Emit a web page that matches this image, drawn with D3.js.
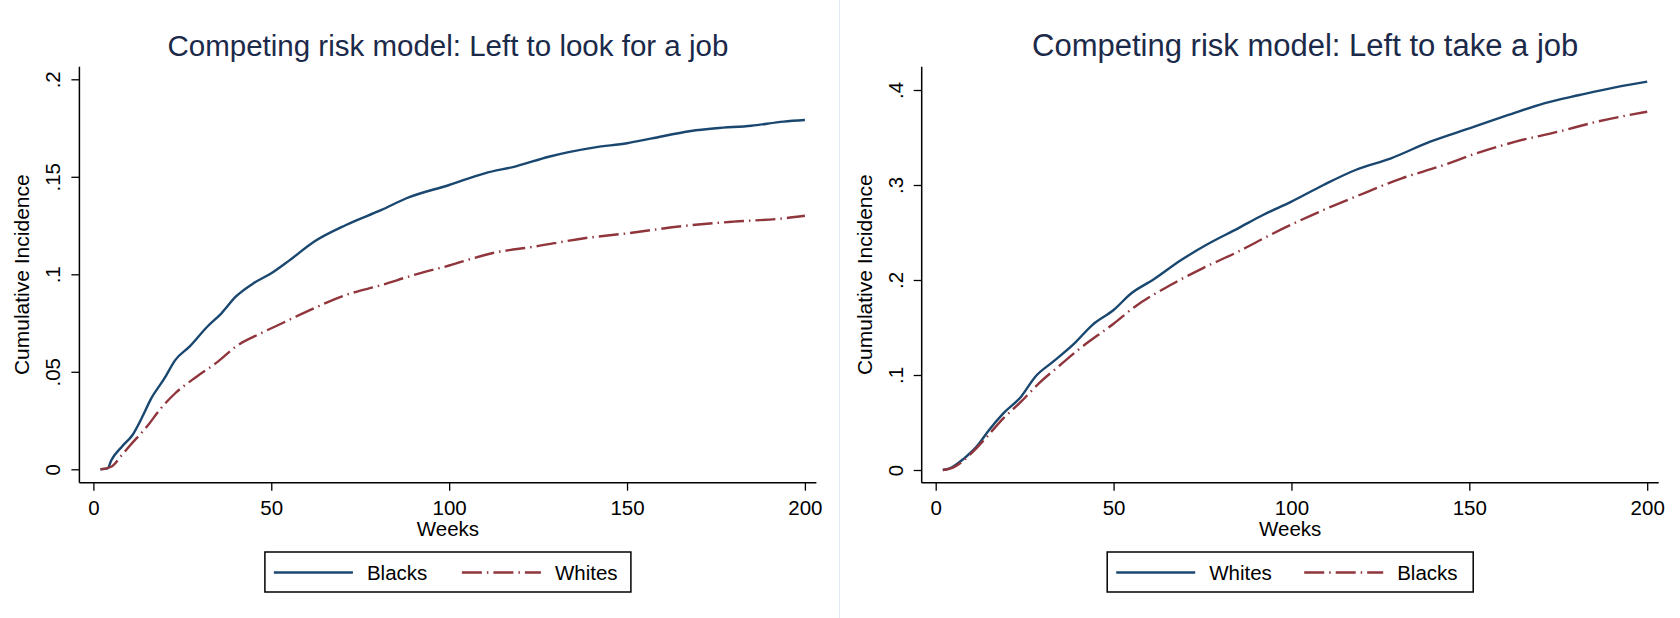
<!DOCTYPE html>
<html>
<head>
<meta charset="utf-8">
<script src="https://cdn.jsdelivr.net/npm/d3@7"></script>
<style>
  body { margin: 0; background: #fff; }
  svg { display: block; font-family: "Liberation Sans", Arial, sans-serif; }
</style>
</head>
<body>
<div id="chart-area"></div>
<script>
// left panel: left to look for a job
var lookBlacksWeeks = [2, 4, 5, 8, 11, 14, 16, 20, 23, 27, 32, 36, 40, 45, 50, 55, 62, 71, 81, 88, 100, 110, 119, 128, 141, 150, 157, 168, 175, 185, 194, 200];
var lookBlacks = [0, 0.0005, 0.0045, 0.0116, 0.0176, 0.0278, 0.0355, 0.0467, 0.056, 0.0629, 0.0731, 0.08, 0.0885, 0.0954, 0.1005, 0.107, 0.1167, 0.1253, 0.133, 0.139, 0.1458, 0.1518, 0.1555, 0.1603, 0.1651, 0.1672, 0.1697, 0.1735, 0.1749, 0.1762, 0.1783, 0.1791];
var lookWhitesWeeks = [2, 5, 8, 10, 15, 19, 23, 29, 35, 40, 47, 52, 62, 71, 81, 90, 100, 112, 124, 138, 150, 166, 180, 194, 200];
var lookWhites = [0, 0.0013, 0.0073, 0.0116, 0.0218, 0.0313, 0.039, 0.0475, 0.0552, 0.0629, 0.0697, 0.074, 0.0826, 0.0894, 0.0945, 0.0996, 0.1045, 0.1108, 0.1142, 0.1185, 0.121, 0.1248, 0.127, 0.1287, 0.13];

// right panel: left to take a job
var takeWhitesWeeks = [2, 4, 8, 11.5, 15, 19, 24, 28, 33, 39, 44, 50, 55, 61, 69, 76, 85, 92, 100, 109, 118, 128, 139, 150, 161, 171, 181, 191, 200];
var takeWhites = [0, 0.0018, 0.0123, 0.0246, 0.0421, 0.0596, 0.0772, 0.0982, 0.114, 0.1333, 0.1526, 0.1684, 0.186, 0.2, 0.221, 0.2368, 0.2544, 0.2684, 0.2825, 0.3, 0.3158, 0.3281, 0.3456, 0.3596, 0.3737, 0.386, 0.3947, 0.4028, 0.4088];
var takeBlacksWeeks = [2, 5, 10, 14, 19, 24, 29, 35, 40, 50, 56, 66, 75, 85, 94, 100, 109, 118, 131, 142, 152, 163, 175, 186, 200];
var takeBlacks = [0, 0.0028, 0.0175, 0.0333, 0.0544, 0.0719, 0.0912, 0.1105, 0.1263, 0.154, 0.1719, 0.1947, 0.2123, 0.2298, 0.2474, 0.2584, 0.2737, 0.2877, 0.307, 0.32, 0.3333, 0.3456, 0.3561, 0.3667, 0.3772];

var xTicks = [0, 50, 100, 150, 200];
var lookYTicks = [0, 0.05, 0.1, 0.15, 0.2];
var takeYTicks = [0, 0.1, 0.2, 0.3, 0.4];

var navy = "#1a476f";
var maroon = "#90353b";
var dashDot = "20,5,1.5,5";

var svg = d3.select("#chart-area")
  .append("svg")
  .attr("width", 1680)
  .attr("height", 618);

// faint border between the two graphs
svg.append("line")
  .attr("x1", 839.5).attr("x2", 839.5)
  .attr("y1", 0).attr("y2", 618)
  .attr("stroke", "#e3e9f0")
  .attr("stroke-width", 1);

function fmt(d) {
  return d === 0 ? "0" : String(d).replace(/^0/, "");
}

function drawPanel(p) {
  var g = svg.append("g").attr("transform", "translate(" + p.left + ",0)");

  var x = d3.scaleLinear().domain([0, 200]).range([14, 725.5]);
  var y = d3.scaleLinear().domain([0, p.yMax]).range(p.yRange);

  var plotL = 0, plotR = 737, plotT = 66.7, plotB = 482.7;
  var cx = (plotL + plotR) / 2;

  g.append("text")
    .attr("x", cx + p.titleShift)
    .attr("y", 56)
    .attr("text-anchor", "middle")
    .attr("font-size", p.titleSize)
    .attr("fill", "#1c2a4a")
    .text(p.title);

  // x axis
  var xAxis = g.append("g")
    .attr("transform", "translate(0," + plotB + ")")
    .call(d3.axisBottom(x).tickValues(xTicks).tickSize(8).tickPadding(10).tickFormat(d3.format("d")));
  xAxis.select(".domain").remove();
  xAxis.selectAll("line").attr("stroke", "#000").attr("stroke-width", 1.3);
  xAxis.selectAll("text").attr("font-size", "20.5px").attr("fill", "#000").attr("font-family", null);

  // y axis
  var yAxis = g.append("g")
    .call(d3.axisLeft(y).tickValues(p.yTicks).tickSize(8).tickFormat(fmt));
  yAxis.select(".domain").remove();
  yAxis.selectAll("line").attr("stroke", "#000").attr("stroke-width", 1.3);
  yAxis.selectAll("text")
    .attr("font-size", "20.5px")
    .attr("fill", "#000")
    .attr("font-family", null)
    .attr("x", null).attr("dy", null)
    .attr("text-anchor", "middle")
    .attr("transform", "translate(-19,0) rotate(-90)");

  // spines
  g.append("line")
    .attr("x1", plotL).attr("x2", plotL)
    .attr("y1", plotT).attr("y2", plotB)
    .attr("stroke", "#000").attr("stroke-width", 1.5);
  g.append("line")
    .attr("x1", plotL).attr("x2", plotR)
    .attr("y1", plotB).attr("y2", plotB)
    .attr("stroke", "#000").attr("stroke-width", 1.5);

  g.append("text")
    .attr("x", cx)
    .attr("y", 536)
    .attr("text-anchor", "middle")
    .attr("font-size", "20.5px")
    .text("Weeks");

  g.append("text")
    .attr("transform", "translate(-50," + (plotT + plotB) / 2 + ") rotate(-90)")
    .attr("text-anchor", "middle")
    .attr("font-size", "21px")
    .text("Cumulative Incidence");

  var line = d3.line()
    .x(d => x(d[0]))
    .y(d => y(d[1]))
    .curve(d3.curveMonotoneX);

  p.series.forEach(s => {
    g.append("path")
      .datum(d3.zip(s.weeks, s.values))
      .attr("fill", "none")
      .attr("stroke", s.color)
      .attr("stroke-width", 2.4)
      .attr("stroke-dasharray", s.dash)
      .attr("d", line);
  });

  // legend
  var lg = g.append("g").attr("transform", "translate(" + (cx - 183) + ",552)");
  lg.append("rect")
    .attr("width", 366).attr("height", 40)
    .attr("fill", "#fff")
    .attr("stroke", "#000").attr("stroke-width", 1.5);
  p.series.forEach((s, i) => {
    var ox = 9 + i * 188;
    lg.append("line")
      .attr("x1", ox).attr("x2", ox + 79)
      .attr("y1", 20.5).attr("y2", 20.5)
      .attr("stroke", s.color)
      .attr("stroke-width", 2.4)
      .attr("stroke-dasharray", s.dash);
    lg.append("text")
      .attr("x", ox + 93)
      .attr("y", 28)
      .attr("font-size", "20.5px")
      .text(s.name);
  });
}

drawPanel({
  left: 79.4,
  title: "Competing risk model: Left to look for a job",
  titleSize: "29.5px",
  titleShift: 0,
  yMax: 0.2,
  yRange: [469.3, 79.3],
  yTicks: lookYTicks,
  series: [
    { name: "Blacks", weeks: lookBlacksWeeks, values: lookBlacks, color: navy, dash: null },
    { name: "Whites", weeks: lookWhitesWeeks, values: lookWhites, color: maroon, dash: dashDot }
  ]
});

drawPanel({
  left: 921.7,
  title: "Competing risk model: Left to take a job",
  titleSize: "31px",
  titleShift: 15,
  yMax: 0.4,
  yRange: [470, 90],
  yTicks: takeYTicks,
  series: [
    { name: "Whites", weeks: takeWhitesWeeks, values: takeWhites, color: navy, dash: null },
    { name: "Blacks", weeks: takeBlacksWeeks, values: takeBlacks, color: maroon, dash: dashDot }
  ]
});
</script>
</body>
</html>
